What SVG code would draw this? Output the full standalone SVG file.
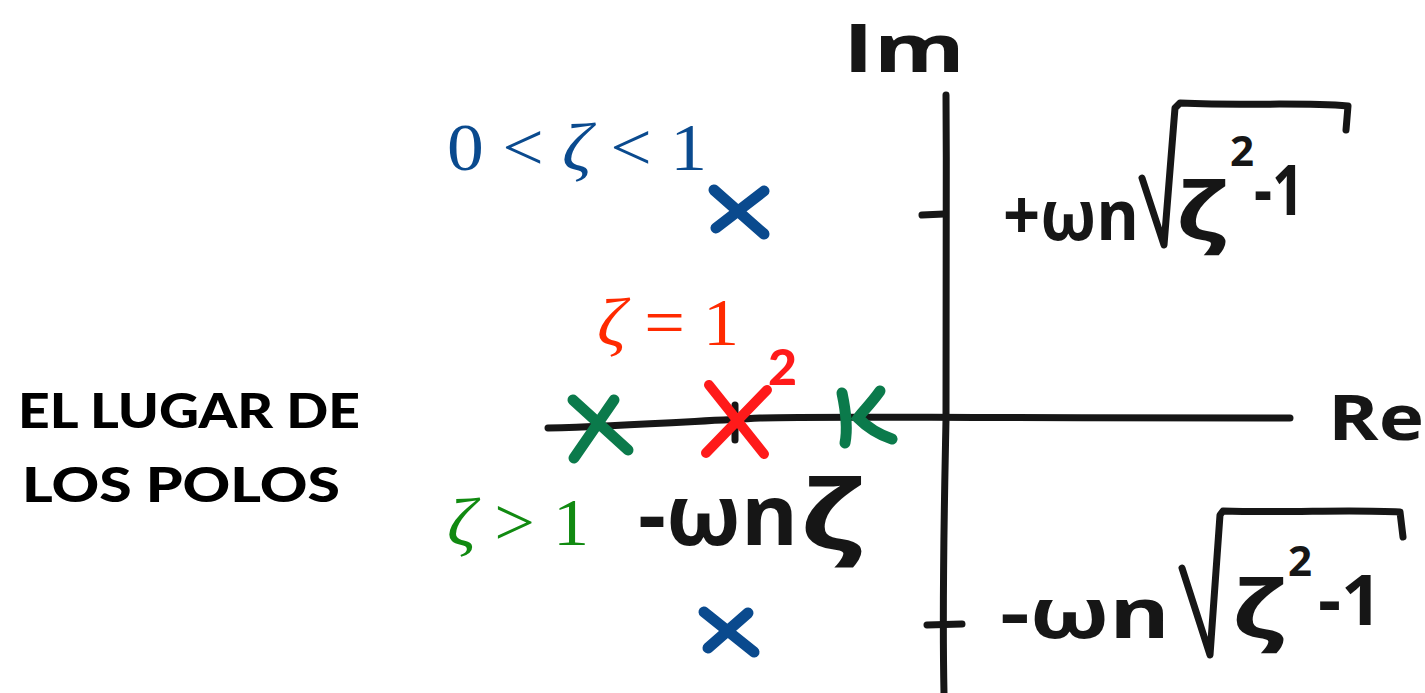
<svg xmlns="http://www.w3.org/2000/svg" width="1425" height="693" viewBox="0 0 1425 693">
<style>
.ink{fill:none;stroke:#161616;stroke-width:7;stroke-linecap:round;stroke-linejoin:round}
.hand{font-family:"Open Sans","DejaVu Sans",sans-serif;font-weight:700;fill:#161616}
.math{font-family:"Liberation Serif","DejaVu Serif",serif}
.title{font-family:Lato,"Liberation Sans",sans-serif;font-weight:900;font-size:48px;fill:#000}
.xb{stroke:#0a4a8e;stroke-width:11;stroke-linecap:round;fill:none}
.xr{stroke:#ff1a1a;stroke-width:10;stroke-linecap:round;fill:none}
.xg{stroke:#0b7a4b;stroke-width:11;stroke-linecap:round;fill:none}
</style>
<rect width="1425" height="693" fill="#fff"/>
<g id="title">
<text class="title" x="18" y="428" textLength="342" lengthAdjust="spacingAndGlyphs">EL LUGAR DE</text>
<text class="title" x="22" y="502" textLength="318" lengthAdjust="spacingAndGlyphs">LOS POLOS</text>
</g>
<g id="axes">
<path class="ink" d="M946,95 C947,200 945,300 946,420 C944,520 942,600 944,693"/>
<path class="ink" d="M548,428 C620,426 680,422 760,418 C820,416 900,418 1290,418"/>
<path class="ink" d="M922,215 L944,214"/>
<path class="ink" d="M927,625 L962,624"/>
<path class="ink" d="M735,405 L735,440"/>
</g>
<g id="labels-axes">
<text class="hand" x="843" y="72" font-size="66" textLength="122" lengthAdjust="spacingAndGlyphs">Im</text>
<text class="hand" x="1328" y="440" font-size="62" textLength="96" lengthAdjust="spacingAndGlyphs">Re</text>
</g>
<g id="upper-label">
<text class="hand" x="1003" y="240" font-size="70" textLength="136" lengthAdjust="spacingAndGlyphs">+ωn</text>
<path class="ink" d="M1142,178 L1164,245 L1175,108 L1180,103 C1250,106 1300,102 1348,106 L1346,130"/>
<text class="hand" x="1176" y="240" font-size="80" textLength="50" lengthAdjust="spacingAndGlyphs">ζ</text>
<text class="hand" x="1230" y="166" font-size="42">2</text>
<text class="hand" x="1254" y="215" font-size="70" textLength="50" lengthAdjust="spacingAndGlyphs">-1</text>
</g>
<g id="lower-label">
<text class="hand" x="1000" y="638" font-size="70" textLength="170" lengthAdjust="spacingAndGlyphs">-ωn</text>
<path class="ink" d="M1182,568 L1210,655 L1220,515 L1223,511 C1290,513 1350,509 1400,512 L1403,537"/>
<text class="hand" x="1232" y="638" font-size="80" textLength="52" lengthAdjust="spacingAndGlyphs">ζ</text>
<text class="hand" x="1288" y="576" font-size="42">2</text>
<text class="hand" x="1318" y="625" font-size="70" textLength="64" lengthAdjust="spacingAndGlyphs">-1</text>
</g>
<g id="center-label">
<text class="hand" x="638" y="545" font-size="84" textLength="160" lengthAdjust="spacingAndGlyphs">-ωn</text>
<text class="hand" x="800" y="550" font-size="96" textLength="62" lengthAdjust="spacingAndGlyphs">ζ</text>
</g>
<g id="zeta-labels">
<text class="math" x="447" y="170" font-size="68" fill="#0a4a8e" textLength="260" lengthAdjust="spacingAndGlyphs">0 &lt; <tspan font-style="italic">ζ</tspan> &lt; 1</text>
<text class="math" x="597" y="345" font-size="68" fill="#ff2a00" textLength="142" lengthAdjust="spacingAndGlyphs"><tspan font-style="italic">ζ</tspan> = 1</text>
<text class="math" x="447" y="545" font-size="68" fill="#118a11" textLength="142" lengthAdjust="spacingAndGlyphs"><tspan font-style="italic">ζ</tspan> &gt; 1</text>
</g>
<g id="poles">
<path class="xb" d="M714,190 L764,234 M764,191 L716,228"/>
<path class="xb" d="M704,612 L754,652 M748,613 L708,648"/>
<path class="xr" d="M709,385 L764,454 M767,390 L706,453"/>
<text x="768" y="385" font-family="Lato,sans-serif" font-weight="900" font-size="50" fill="#ff1a1a">2</text>
<path class="xg" d="M573,400 L628,450 M614,400 L574,458"/>
<path class="xg" d="M842,393 C846,412 848,428 845,443 M880,391 C870,405 862,412 858,418 C868,428 880,435 892,439"/>
</g>
</svg>
